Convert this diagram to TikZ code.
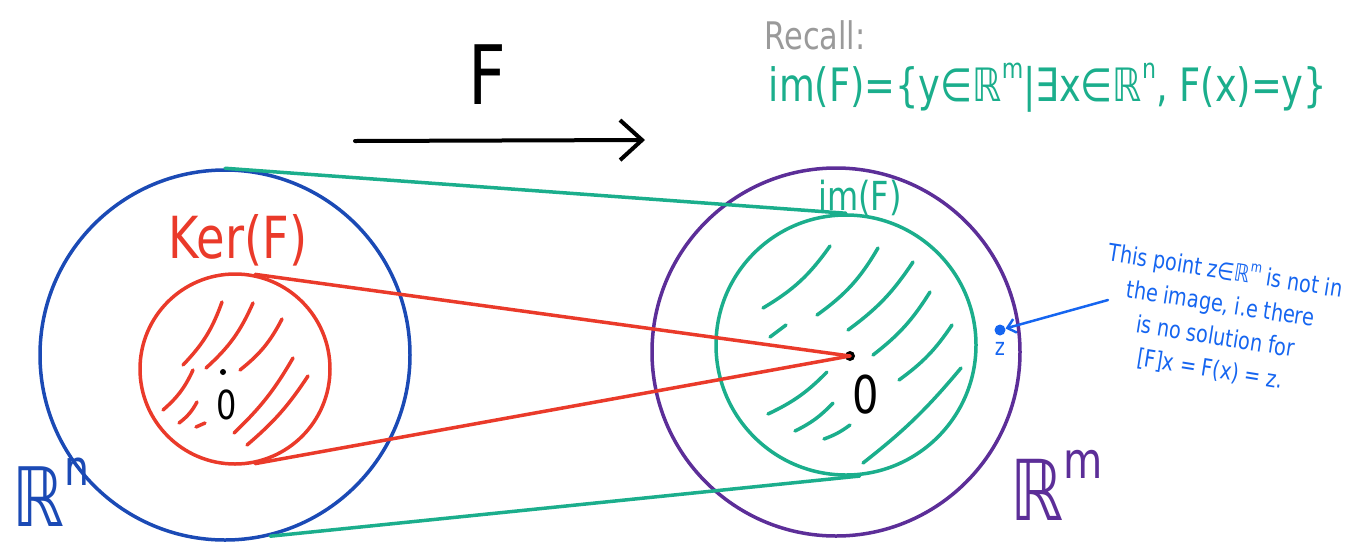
\documentclass[tikz,border=0pt]{standalone}
\usepackage{fontspec}
\setmainfont[FakeStretch=0.8]{DejaVu Sans}
\usetikzlibrary{arrows.meta, positioning}
\definecolor{rnblue}{HTML}{1B4AB5}
\definecolor{kerred}{HTML}{EA3A2A}
\definecolor{imgreen}{HTML}{1BAE8C}
\definecolor{rmpurple}{HTML}{5C2E98}
\definecolor{notegray}{HTML}{9A9A9A}
\definecolor{noteblue}{HTML}{1565F0}
\newcommand\upidx[1]{\raisebox{0.9ex}{\scalebox{0.6}{#1}}}
\tikzset{
  space/.style={circle, draw, line width=3.5pt, inner sep=0pt},
  hatch/.style={line width=3.5pt, line cap=round},
  map/.style={line width=3.5pt, line cap=round},
  lbl/.style={inner sep=0pt},
  origin/.style={circle, fill=black, inner sep=0pt},
  note/.style={text=noteblue, inner sep=0pt, font=\fontsize{24}{33}\selectfont},
}
\begin{document}
\begin{tikzpicture}[x=1pt, y=-1pt]
  \useasboundingbox (0,0) rectangle (1350,542);
  % the two spaces
  \node[space, draw=rnblue, minimum size=370pt] (rn) at (225,355) {};
  \node[space, draw=kerred, minimum size=190pt] (ker) at (235,369) {};
  \node[space, draw=rmpurple, minimum size=368pt] (rm) at (836,352) {};
  \node[space, draw=imgreen, minimum size=260pt] (im) at (846,345) {};

  % hatching
  \draw[hatch, kerred] (222,302) to[bend left=12] (183,365)
    (253,303) to[bend left=12] (206,368)
    (282,319) to[bend left=12] (240,370)
    (193,370) to[bend left=12] (163,410)
    (197,402) to[bend left=12] (179,423)
    (205,423) -- (196,427)
    (293,358) to[bend left=8] (234,433)
    (308,376) to[bend left=8] (247,445);
  \draw[hatch, imgreen] (830,246) to[bend left=12] (763,308)
    (878,248) to[bend left=12] (817,315)
    (913,262) to[bend left=10] (848,330)
    (930,292) to[bend left=10] (873,355)
    (952,325) to[bend left=10] (899,380)
    (961,368) to[bend left=6] (863,463)
    (786,325) -- (770,337)
    (827,372) to[bend left=10] (768,414)
    (833,403) to[bend left=10] (795,431)
    (850,425) to[bend left=8] (824,439);

  % origins
  \node[origin, minimum size=6pt] (o1) at (223,372) {};
  \node[lbl, font=\fontsize{40}{40}\selectfont] (o1lbl) at (227,405) {0};
  \node[origin, minimum size=10pt] (o2) at (850,356) {};
  \node[lbl, font=\fontsize{52}{52}\selectfont] (o2lbl) at (866,395) {0};

  % image and kernel
  \draw[map, imgreen] (rn.north) -- (im.north);
  \draw[map, imgreen] (rn.-76) -- (im.-84);
  \draw[map, kerred] (ker.78) -- (o2.center);
  \draw[map, kerred] (ker.-78) -- (o2.center);

  \node[lbl, text=kerred, font=\fontsize{58}{58}\selectfont] (kerlbl) at (238,240) {Ker(F)};
  \node[lbl, text=imgreen, font=\fontsize{40}{40}\selectfont] (imlbl) at (860,198) {im(F)};
  \node[lbl, text=rnblue, font=\fontsize{82}{82}\selectfont, anchor=base west] (rnlbl) at (12,526) {ℝ\upidx{n}};
  \node[lbl, text=rmpurple, font=\fontsize{84}{84}\selectfont, anchor=base west] (rmlbl) at (1010,520) {ℝ\upidx{m}};

  % the map F
  \node[lbl, font=\fontsize{82}{82}\selectfont] (fname) at (487,75) {F};
  \coordinate (fstart) at (355,141);
  \coordinate (fend) at (645,140);
  \draw[line width=4pt, line cap=round, -{Straight Barb[length=22pt, width=40pt]}] (fstart) -- (fend);

  % recall
  \node[lbl, text=notegray, font=\fontsize{38}{38}\selectfont] (recall) at (815,35) {Recall:};
  \node[lbl, text=imgreen, font=\fontsize{46}{46}\selectfont] (imdef) at (1048,88)
    {im(F)=\{y∈ℝ\upidx{m}|∃x∈ℝ\upidx{n}, F(x)=y\}};

  % point outside the image
  \node[origin, fill=noteblue, minimum size=11pt] (z) at (1000,330) {};
  \node[note, below=6pt of z] (zlbl) {z};
  \node[note, rotate=-9, align=center] (zinfo) at (1218,320)
    {This point z∈ℝ\upidx{m} is not in\\the image, i.e there\\is no solution for\\{}[F]x = F(x) = z.};
  \coordinate (ztail) at (1108,300);
  \draw[noteblue, line width=2.5pt, line cap=round, -{Straight Barb[length=8pt, width=14pt]}] (ztail) -- (z);
\end{tikzpicture}
\end{document}
